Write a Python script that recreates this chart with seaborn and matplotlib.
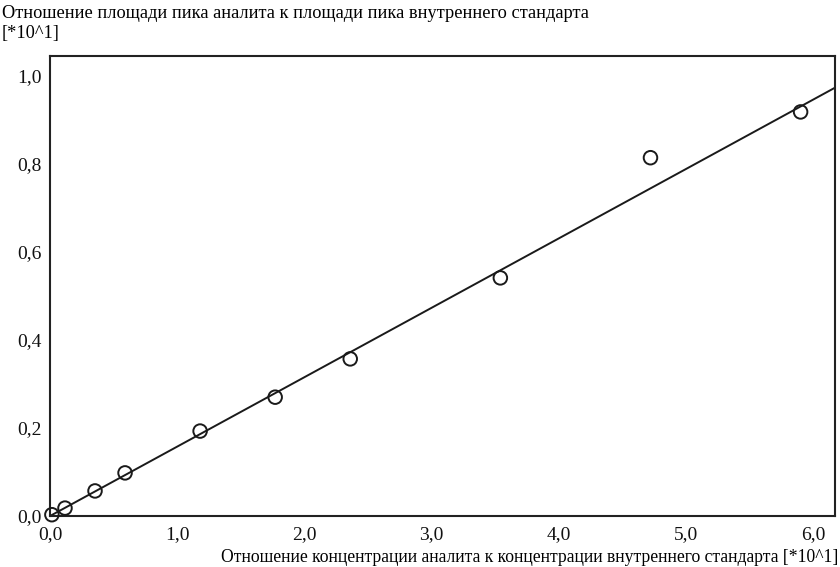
import numpy as np
import pandas as pd
import matplotlib
matplotlib.use("Agg")
import matplotlib.pyplot as plt
import seaborn as sns
from matplotlib.ticker import FuncFormatter

# Calibration data: concentration ratio vs. peak-area ratio (both x10^1)
conc_ratio = [0.015, 0.118, 0.354, 0.59, 1.18, 1.77, 2.36, 3.54, 4.72, 5.90]
area_ratio = [0.003, 0.018, 0.057, 0.098, 0.193, 0.270, 0.357, 0.541, 0.814, 0.918]

# Fitted calibration line
fit_slope = 0.1577
fit_intercept = 0.0
x_range = [0.0, 6.17]

x_ticks = [0, 1, 2, 3, 4, 5, 6]
y_ticks = [0.0, 0.2, 0.4, 0.6, 0.8, 1.0]

ylabel_text = "Отношение площади пика аналита к площади пика внутреннего стандарта\n[*10^1]"
xlabel_text = "Отношение концентрации аналита к концентрации внутреннего стандарта [*10^1]"

sns.set_theme(style="white")
plt.rcParams["font.family"] = ["Liberation Serif", "DejaVu Serif"]

pts = pd.DataFrame({"x": conc_ratio, "y": area_ratio})
fit = pd.DataFrame({"x": x_range,
                    "y": [fit_slope * v + fit_intercept for v in x_range]})

fig = plt.figure(figsize=(8.4, 5.67), dpi=100)
ax = fig.add_axes([0.0595, 0.0899, 0.9345, 0.8113])

sns.lineplot(data=fit, x="x", y="y", ax=ax, color="#1a1a1a", linewidth=1.4)
sns.scatterplot(data=pts, x="x", y="y", ax=ax, marker="o", s=95,
                facecolor="none", edgecolor="#1a1a1a", linewidth=1.4,
                zorder=3, clip_on=False)

ax.set_xlim(x_range)
ax.set_ylim(0, 1.045)
ax.set_xticks(x_ticks)
ax.set_yticks(y_ticks)
fmt = FuncFormatter(lambda v, p: f"{v:.1f}".replace(".", ","))
ax.xaxis.set_major_formatter(fmt)
ax.yaxis.set_major_formatter(fmt)
ax.tick_params(axis="x", direction="in", length=2, width=1, color="#333333",
               labelsize=14, pad=7, labelcolor="#111111")
ax.tick_params(axis="y", length=0, labelsize=14, pad=6, labelcolor="#111111")
ax.set_xlabel("")
ax.set_ylabel("")

for sp in ax.spines.values():
    sp.set_visible(True)
    sp.set_color("#222222")
    sp.set_linewidth(1.5)

fig.text(0.002, 0.992, ylabel_text, ha="left", va="top", fontsize=13.2,
         color="#000000", linespacing=1.3)
fig.text(0.998, 0.002, xlabel_text, ha="right", va="bottom", fontsize=12.7,
         color="#000000")

fig.savefig("out.png", dpi=100, facecolor="white")
